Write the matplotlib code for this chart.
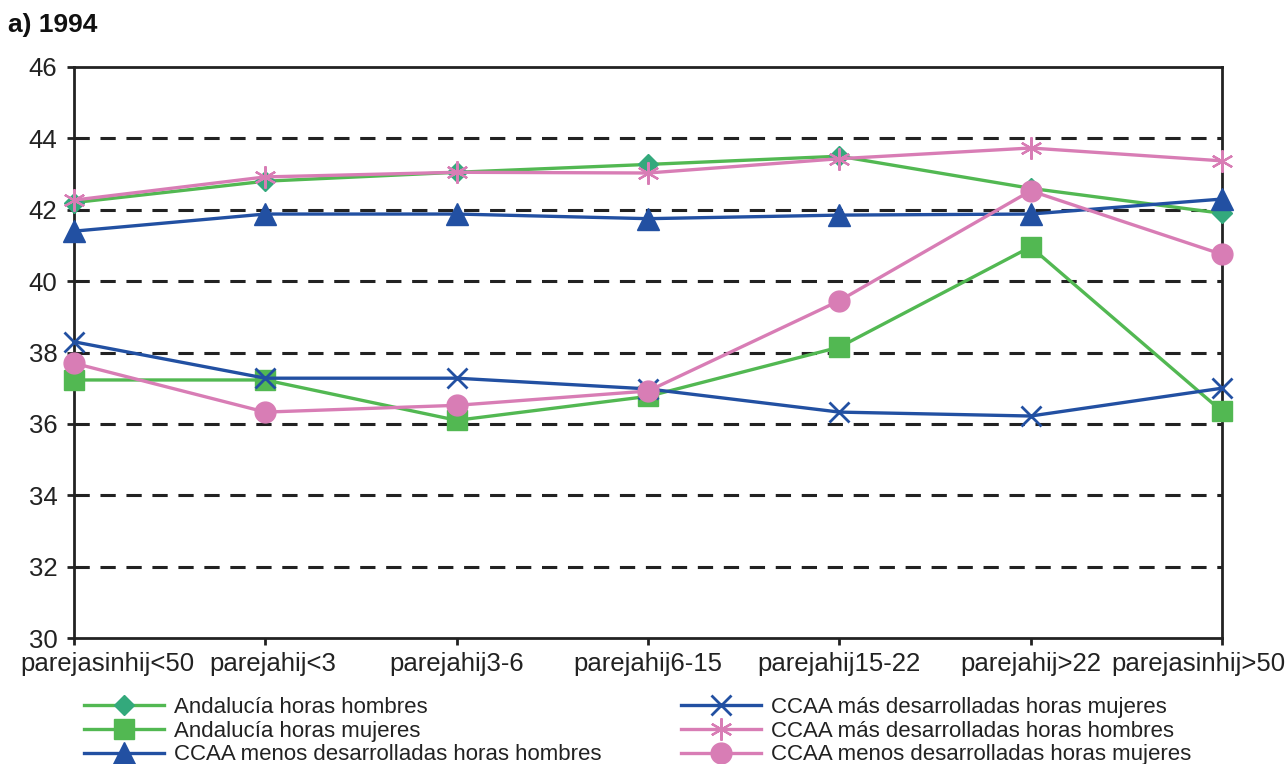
import matplotlib
matplotlib.use("Agg")
import matplotlib.pyplot as plt
from matplotlib.transforms import ScaledTranslation

categories = ["parejasinhij<50", "parejahij<3", "parejahij3-6", "parejahij6-15",
              "parejahij15-22", "parejahij>22", "parejasinhij>50"]

andalucia_hombres = [42.2, 42.8, 43.05, 43.27, 43.5, 42.6, 41.9]
andalucia_mujeres = [37.23, 37.23, 36.1, 36.77, 38.15, 40.96, 36.35]
menos_hombres = [41.4, 41.88, 41.88, 41.75, 41.85, 41.88, 42.3]
mas_mujeres = [38.3, 37.28, 37.28, 36.98, 36.33, 36.22, 37.0]
mas_hombres = [42.27, 42.92, 43.05, 43.03, 43.43, 43.73, 43.37]
menos_mujeres = [37.7, 36.33, 36.52, 36.92, 39.45, 42.53, 40.75]

labels = ["Andalucía horas hombres", "Andalucía horas mujeres",
          "CCAA menos desarrolladas horas hombres",
          "CCAA más desarrolladas horas mujeres",
          "CCAA más desarrolladas horas hombres",
          "CCAA menos desarrolladas horas mujeres"]
yticks = [30, 32, 34, 36, 38, 40, 42, 44, 46]

plt.rcParams['font.family'] = ['Liberation Sans', 'DejaVu Sans']

GREEN = "#52b852"
TEAL = "#33a97c"
BLUE = "#2250a2"
PINK = "#d87db5"

fig = plt.figure(figsize=(12.88, 7.64), dpi=100)
ax = fig.add_axes([74/1288, 1-638/764, (1222-74)/1288, (638-67)/764])

x = list(range(len(categories)))
styles = [
    dict(color=GREEN, marker="D", mfc=TEAL, mec=TEAL, ms=10),
    dict(color=GREEN, marker="s", mfc=GREEN, mec=GREEN, ms=14),
    dict(color=BLUE, marker="^", mfc=BLUE, mec=BLUE, ms=16),
    dict(color=BLUE, marker="x", mfc=BLUE, mec=BLUE, ms=15, mew=2),
    dict(color=PINK, marker=(6, 2, 0), mfc=PINK, mec=PINK, ms=16, mew=1.6),
    dict(color=PINK, marker="o", mfc=PINK, mec=PINK, ms=15),
]
series = [andalucia_hombres, andalucia_mujeres, menos_hombres, mas_mujeres, mas_hombres, menos_mujeres]
handles = []
for i in range(len(series)):
    h, = ax.plot(x, series[i], lw=2.4, label=labels[i], clip_on=False, zorder=3, **styles[i])
    handles.append(h)

ax.set_xlim(0, len(categories)-1)
ax.set_ylim(30, 46)
ax.set_yticks(yticks)
ax.set_xticks(x)
ax.set_xticklabels(categories)
for yv in yticks[1:-1]:
    ax.axhline(yv, color="#222222", lw=2.2, ls=(0, (5, 3.5)), zorder=1)

for s in ax.spines.values():
    s.set_linewidth(2)
    s.set_color("#222222")
ax.tick_params(axis="both", direction="out", length=5, width=2, color="#222222",
               labelsize=18.5, labelcolor="#222222")
ax.tick_params(axis="x", pad=5)
ax.tick_params(axis="y", pad=7)

offsets = [33, 7, 0, 0, 0, 0, -24]
for lab, dx in zip(ax.get_xticklabels(), offsets):
    lab.set_transform(lab.get_transform() + ScaledTranslation(dx/100, 0, fig.dpi_scale_trans))

fig.text(8/1288, 1-25/764, "a) 1994", fontsize=19, fontweight="bold",
         family=["Liberation Sans Narrow", "Liberation Sans", "DejaVu Sans"],
         va="center", ha="left", color="#111111")

leg_kw = dict(frameon=False, fontsize=16, handlelength=3.6, handletextpad=0.45,
              labelspacing=0.12, borderaxespad=0, borderpad=0, labelcolor="#222222")
leg1 = fig.legend(handles[:3], labels[:3], loc="upper left",
                  bbox_to_anchor=(84/1288, 1-697/764), **leg_kw)
leg2 = fig.legend(handles[3:], labels[3:], loc="upper left",
                  bbox_to_anchor=(681/1288, 1-697/764), **leg_kw)

fig.savefig("out.png", dpi=100)
